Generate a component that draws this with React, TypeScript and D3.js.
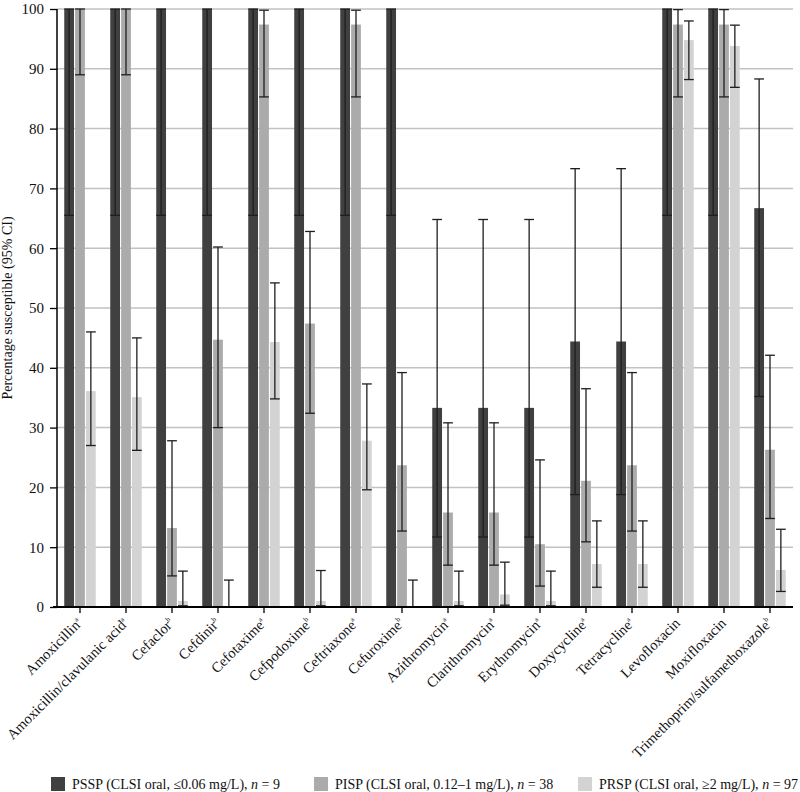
import { useRef, useEffect } from 'react'
import * as d3 from 'd3';

const drugs = [
    "Amoxicillin", "Amoxicillin/clavulanic acid", "Cefaclor", "Cefdinir", "Cefotaxime",
    "Cefpodoxime", "Ceftriaxone", "Cefuroxime", "Azithromycin", "Clarithromycin",
    "Erythromycin", "Doxycycline", "Tetracycline", "Levofloxacin", "Moxifloxacin",
    "Trimethoprim/sulfamethoxazole"
];
const footnotes = ["a", "a", "b", "b", "a", "b", "a", "b", "a", "a", "a", "a", "a", "", "", "b"];

// PSSP, n = 9
const psspValues = [100, 100, 100, 100, 100, 100, 100, 100, 33.3, 33.3, 33.3, 44.4, 44.4, 100, 100, 66.7];
const psspLower = [65.5, 65.5, 65.5, 65.5, 65.5, 65.5, 65.5, 65.5, 11.7, 11.7, 11.7, 18.8, 18.8, 65.5, 65.5, 35.2];
const psspUpper = [100, 100, 100, 100, 100, 100, 100, 100, 64.8, 64.8, 64.8, 73.3, 73.3, 100, 100, 88.3];

// PISP, n = 38
const pispValues = [100, 100, 13.2, 44.7, 97.4, 47.4, 97.4, 23.7, 15.8, 15.8, 10.5, 21.1, 23.7, 97.4, 97.4, 26.3];
const pispLower = [89.0, 89.0, 5.2, 30.0, 85.3, 32.4, 85.3, 12.7, 7.0, 7.0, 3.5, 10.9, 12.7, 85.3, 85.3, 14.8];
const pispUpper = [100, 100, 27.8, 60.2, 99.8, 62.8, 99.8, 39.2, 30.8, 30.8, 24.6, 36.5, 39.2, 99.9, 99.9, 42.1];

// PRSP, n = 97
const prspValues = [36.1, 35.1, 1.0, 0, 44.3, 1.0, 27.8, 0, 1.0, 2.1, 1.0, 7.2, 7.2, 94.8, 93.8, 6.2];
const prspLower = [27.0, 26.2, 0.2, 0, 34.8, 0.2, 19.6, 0, 0.2, 0.3, 0.2, 3.3, 3.3, 88.2, 86.9, 2.6];
const prspUpper = [46.0, 45.0, 6.0, 4.5, 54.2, 6.1, 37.3, 4.5, 6.0, 7.5, 6.0, 14.4, 14.4, 98.0, 97.3, 13.0];

const groupKeys = ["PSSP", "PISP", "PRSP"];
const groupColors = ["#404040", "#ababab", "#d3d3d3"];
const legendLabels = [
    ["PSSP (CLSI oral, ≤0.06 mg/L), ", " = 9"],
    ["PISP (CLSI oral, 0.12–1 mg/L), ", " = 38"],
    ["PRSP (CLSI oral, ≥2 mg/L), ", " = 97"]
];
const yTicks = [0, 10, 20, 30, 40, 50, 60, 70, 80, 90, 100];

function App() {

    const d3Container = useRef(null);

    const width = 800;
    const height = 792;

    useEffect(() => {
        document.body.style.margin = "0";

        const marginTop = 9;
        const marginRight = 7;
        const marginLeft = 57;
        const plotBottom = 607;
        const font = "'Liberation Serif', 'Times New Roman', serif";

        const svg = d3.select(d3Container.current);
        svg.selectAll("*").remove();

        const x = d3.scaleBand()
                    .domain(drugs)
                    .range([marginLeft, width - marginRight]);

        const y = d3.scaleLinear()
                    .domain([0, 100])
                    .range([plotBottom, marginTop]);

        const inner = d3.scaleBand()
                        .domain(groupKeys)
                        .range([x.bandwidth() / 2 - 15.75, x.bandwidth() / 2 + 15.75])
                        .paddingInner(0.1);

        // grid
        svg.append("g")
           .selectAll("line")
           .data(yTicks.filter(d => d > 0))
           .join("line")
           .attr("x1", marginLeft)
           .attr("x2", width - marginRight)
           .attr("y1", d => y(d))
           .attr("y2", d => y(d))
           .attr("stroke", "#c2c2c2")
           .attr("stroke-width", 1.5);

        const rows = drugs.map((drug, i) => ({
            drug,
            groups: [
                { key: "PSSP", v: psspValues[i], lo: psspLower[i], hi: psspUpper[i] },
                { key: "PISP", v: pispValues[i], lo: pispLower[i], hi: pispUpper[i] },
                { key: "PRSP", v: prspValues[i], lo: prspLower[i], hi: prspUpper[i] }
            ]
        }));

        const groups = svg.append("g")
           .selectAll("g")
           .data(rows)
           .join("g")
           .attr("transform", d => `translate(${x(d.drug)},0)`);

        groups.selectAll("rect")
              .data(d => d.groups)
              .join("rect")
              .attr("x", d => inner(d.key))
              .attr("width", inner.bandwidth())
              .attr("y", d => y(d.v))
              .attr("height", d => y(0) - y(d.v))
              .attr("fill", (d, i) => groupColors[i]);

        // error bars
        const err = groups.selectAll("g.err")
              .data(d => d.groups)
              .join("g")
              .attr("class", "err")
              .attr("stroke", "#1e1e1e")
              .attr("stroke-width", 1.3);

        err.append("line")
           .attr("x1", d => inner(d.key) + inner.bandwidth() / 2)
           .attr("x2", d => inner(d.key) + inner.bandwidth() / 2)
           .attr("y1", d => y(d.lo))
           .attr("y2", d => y(d.hi));
        err.append("line")
           .attr("x1", d => inner(d.key))
           .attr("x2", d => inner(d.key) + inner.bandwidth())
           .attr("y1", d => y(d.hi))
           .attr("y2", d => y(d.hi));
        err.append("line")
           .attr("x1", d => inner(d.key))
           .attr("x2", d => inner(d.key) + inner.bandwidth())
           .attr("y1", d => y(d.lo))
           .attr("y2", d => y(d.lo));

        // y axis
        svg.append("g")
           .attr("transform", `translate(${marginLeft},0)`)
           .call(d3.axisLeft(y).tickValues(yTicks).tickSize(7).tickPadding(6))
           .call(g => g.select(".domain").attr("stroke", "#000").attr("stroke-width", 1.5)
                       .attr("d", `M0,${y(0)}V${y(100)}`))
           .call(g => g.selectAll(".tick line").attr("stroke", "#000").attr("stroke-width", 1.3))
           .call(g => g.selectAll(".tick text")
                       .attr("font-family", font)
                       .attr("font-size", 15)
                       .attr("fill", "#111"));

        svg.append("text")
           .attr("transform", `translate(12,${(y(0) + y(100)) / 2}) rotate(-90)`)
           .attr("text-anchor", "middle")
           .attr("font-family", font)
           .attr("font-size", 14)
           .attr("fill", "#111")
           .text("Percentage susceptible (95% CI)");

        // x axis
        svg.append("g")
           .attr("transform", `translate(0,${plotBottom})`)
           .call(d3.axisBottom(x).tickSize(6).tickFormat(() => ""))
           .call(g => g.select(".domain").attr("stroke", "#000").attr("stroke-width", 2)
                       .attr("d", `M${marginLeft - 4},0H${width - marginRight}`))
           .call(g => g.selectAll(".tick line").attr("stroke", "#000").attr("stroke-width", 1.3));

        const labels = svg.append("g")
           .selectAll("text")
           .data(drugs)
           .join("text")
           .attr("transform", d => `translate(${x(d) + x.bandwidth() / 2 + 3},${plotBottom + 17}) rotate(-45)`)
           .attr("text-anchor", "end")
           .attr("font-family", font)
           .attr("font-size", 14.5)
           .attr("fill", "#111");
        labels.append("tspan").text(d => d);
        labels.append("tspan")
              .attr("font-size", 7)
              .attr("dy", -6)
              .text((d, i) => footnotes[i]);

        // legend
        const legendX = [51, 314, 578];
        const legend = svg.append("g")
           .selectAll("g")
           .data(groupKeys)
           .join("g")
           .attr("transform", (d, i) => `translate(${legendX[i]},777)`);
        legend.append("rect")
              .attr("width", 14)
              .attr("height", 14)
              .attr("fill", (d, i) => groupColors[i]);
        const lt = legend.append("text")
              .attr("x", 21)
              .attr("y", 12)
              .attr("font-family", font)
              .attr("font-size", 14)
              .attr("fill", "#111");
        lt.append("tspan").text((d, i) => legendLabels[i][0]);
        lt.append("tspan").attr("font-style", "italic").text("n");
        lt.append("tspan").text((d, i) => legendLabels[i][1]);
    });

    return (
        <>
            <svg width={width}
                 height={height}
                 style={{ display: "block", background: "#fff" }}
                 ref={d3Container} />
        </>
    )
}

export default App;
